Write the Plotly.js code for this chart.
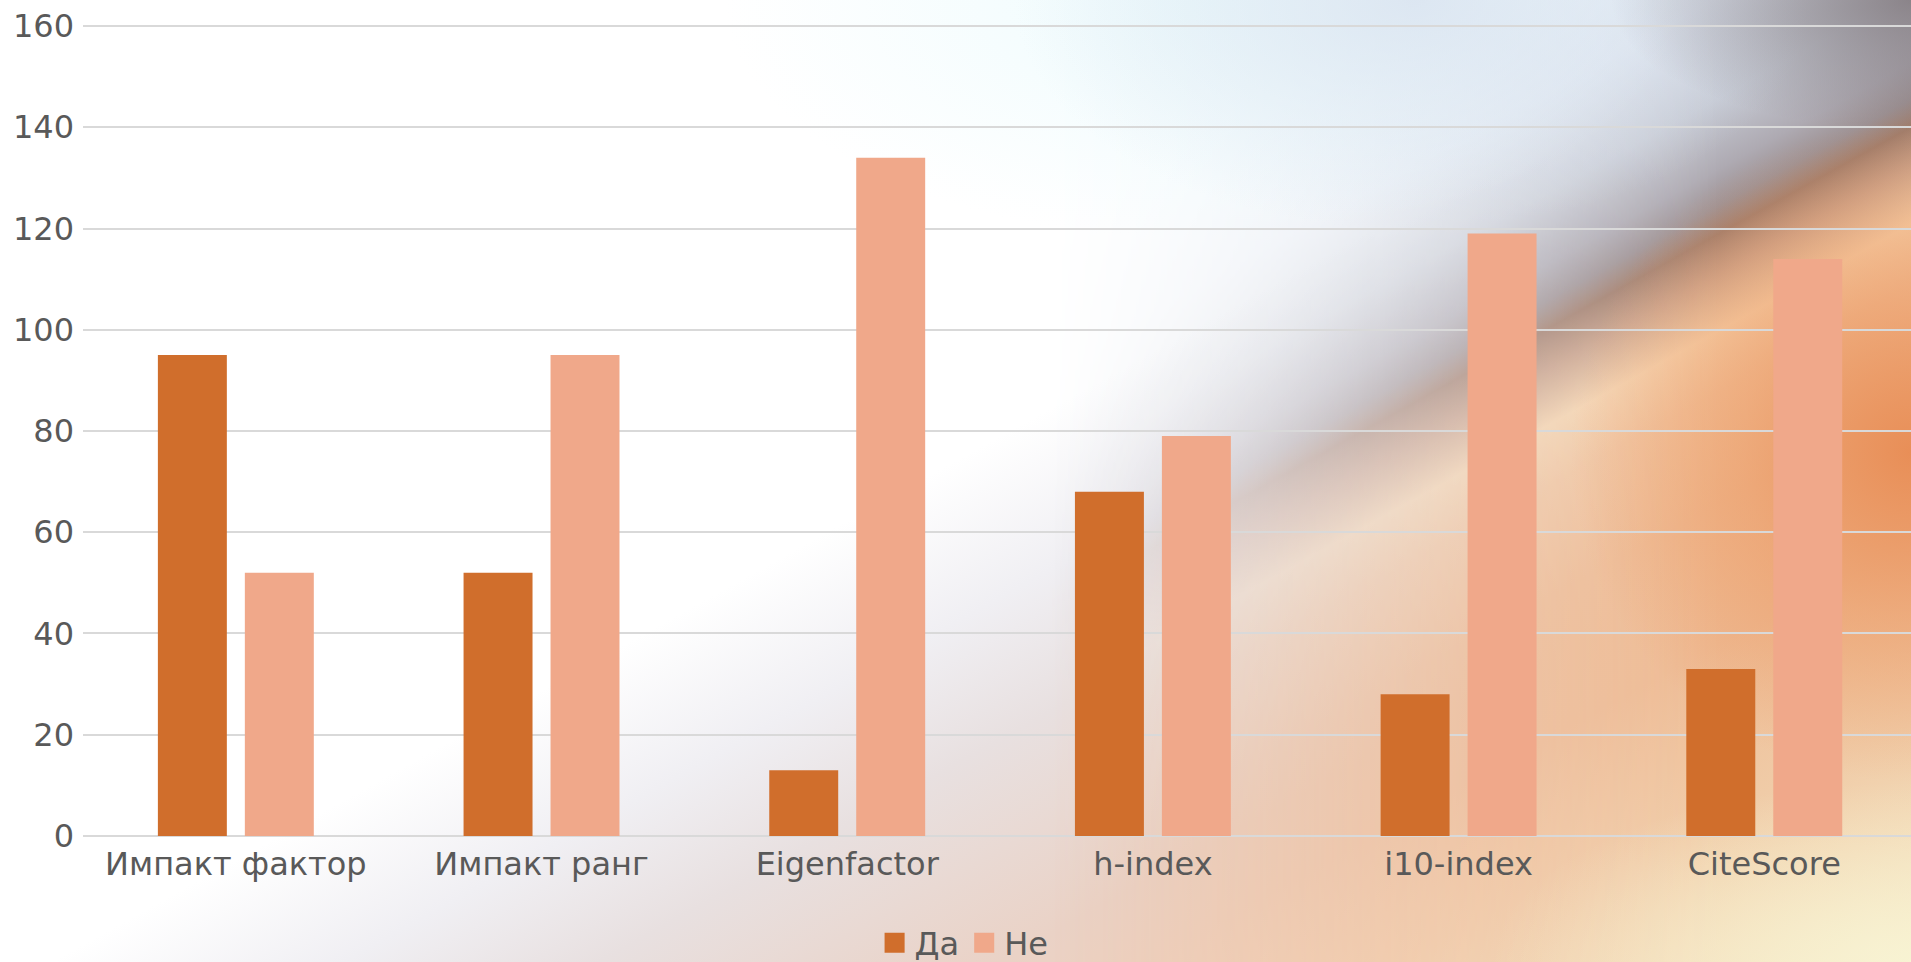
<!DOCTYPE html>
<html>
<head>
<meta charset="utf-8">
<script src="https://cdn.plot.ly/plotly-3.0.1.min.js"></script>
<style>
html, body { margin:0; padding:0; width:1911px; height:962px; overflow:hidden; background:#fff; }
.bg { position:absolute; left:0; top:0; width:1911px; height:962px; }
#bg1 {
  background: linear-gradient(151deg, #ffffff 0%, #ffffff 49%, #f0eff3 57%, #e8e0e0 64%, #ead2c6 75%, #f3d2bc 86%, #f5e6c8 100%);
}
#bg2 {
  background: linear-gradient(151deg, #eef8fc 0%, #e8f3fa 40%, #dce3ee 47%, #c6cad4 52%, #aeaab2 55.5%, #9e9294 57.3%, #a07c6a 58.7%, #c8a088 60.7%, #f6d4ae 63.5%, #f2c6a0 66.5%, #efbc94 72%, #eebb94 79%, #f0cca8 88%, #f5e8c6 100%);
  -webkit-mask-image: linear-gradient(to right, rgba(0,0,0,0) 55%, rgba(0,0,0,0.5) 72%, rgba(0,0,0,1) 90%);
  mask-image: linear-gradient(to right, rgba(0,0,0,0) 55%, rgba(0,0,0,0.5) 72%, rgba(0,0,0,1) 90%);
}
#bg3 {
  background:
    radial-gradient(ellipse 300px 130px at 100% 0%, rgba(120,110,114,0.75) 0%, rgba(120,110,114,0) 100%),
    radial-gradient(ellipse 340px 330px at 100% 47%, rgba(232,140,84,0.95) 0%, rgba(236,156,104,0.6) 50%, rgba(240,170,120,0) 100%),
    radial-gradient(ellipse 420px 180px at 100% 100%, rgba(248,244,212,0.9) 0%, rgba(248,244,212,0) 100%),
    radial-gradient(ellipse 400px 230px at 74% 0%, rgba(214,224,238,0.75) 0%, rgba(214,224,238,0) 100%),
    radial-gradient(ellipse 480px 240px at 63% 0%, rgba(236,251,253,0.9) 0%, rgba(236,250,253,0) 100%);
}
#chart { position:absolute; left:0; top:0; width:1911px; height:962px; }
</style>
</head>
<body>
<div class="bg" id="bg1"></div>
<div class="bg" id="bg2"></div>
<div class="bg" id="bg3"></div>
<div id="chart"></div>
<script>
const categories = ["Импакт фактор", "Импакт ранг", "Eigenfactor", "h-index", "i10-index", "CiteScore"];
const seriesNames = ["Да", "Не"];
const valuesDa = [95, 52, 13, 68, 28, 33];
const valuesNe = [52, 95, 134, 79, 119, 114];
const yTicks = [0, 20, 40, 60, 80, 100, 120, 140, 160];

const colors = ["#D06E2C", "#F0A88A"];
const font = "DejaVu Sans, Verdana, sans-serif";
const textColor = "#595959";

const traces = [
  { type: "bar", name: seriesNames[0], x: categories, y: valuesDa, marker: { color: colors[0] }, hoverinfo: "x+y+name" },
  { type: "bar", name: seriesNames[1], x: categories, y: valuesNe, marker: { color: colors[1] }, hoverinfo: "x+y+name" }
];

const layout = {
  width: 1911, height: 962,
  margin: { l: 83, r: 0, t: 24, b: 124, pad: 0, autoexpand: false },
  paper_bgcolor: "rgba(0,0,0,0)",
  plot_bgcolor: "rgba(0,0,0,0)",
  barmode: "group",
  bargap: 0.431,
  bargroupgap: 0.207,
  font: { family: font, size: 32, color: textColor },
  xaxis: {
    type: "category",
    range: [-0.5, 5.48],
    showgrid: false, zeroline: false, showline: false,
    ticks: "", ticklabelstandoff: 4,
    tickfont: { family: font, size: 32, color: textColor },
    fixedrange: true
  },
  yaxis: {
    range: [-0.4, 160.4],
    tickvals: yTicks, ticktext: yTicks.map(String),
    showgrid: true, gridcolor: "#D9D9D9", gridwidth: 2,
    zeroline: false, showline: false, ticks: "",
    ticklabelstandoff: 8,
    tickfont: { family: font, size: 32, color: textColor },
    fixedrange: true
  },
  showlegend: true,
  legend: {
    orientation: "h",
    x: 0.482, xanchor: "center",
    y: -0.129, yanchor: "middle",
    font: { family: font, size: 32, color: textColor },
    bgcolor: "rgba(0,0,0,0)",
    itemclick: false, itemdoubleclick: false
  }
};

Plotly.newPlot("chart", traces, layout, { displayModeBar: false }).then(function () {
  document.querySelectorAll(".legendpoints path").forEach(function (p) {
    p.setAttribute("transform", "translate(20,0) scale(1.67)");
  });
});
</script>
</body>
</html>
